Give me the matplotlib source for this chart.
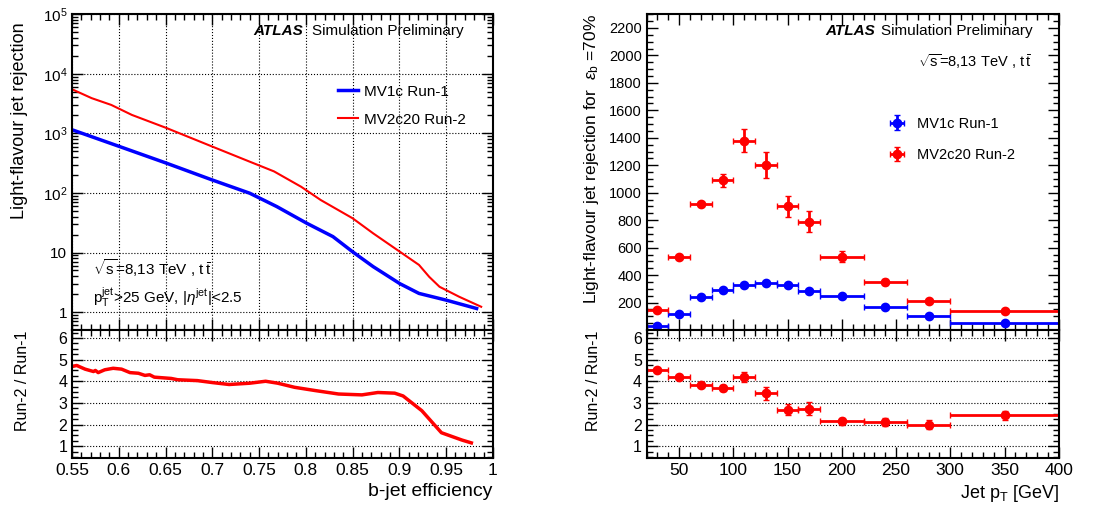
import numpy as np
import matplotlib
matplotlib.use("Agg")
import matplotlib.pyplot as plt
from matplotlib.ticker import FixedLocator, MultipleLocator, LogLocator, NullFormatter, FuncFormatter

plt.rcParams['font.family'] = ['Liberation Sans', 'DejaVu Sans']
plt.rcParams['mathtext.fontset'] = 'custom'
plt.rcParams['mathtext.rm'] = 'Liberation Sans'
plt.rcParams['mathtext.it'] = 'Liberation Sans:italic'

# --- left: rejection vs b-jet efficiency ---
eff_run1 = [0.55, 0.601, 0.651, 0.70, 0.740, 0.769, 0.801, 0.829, 0.85, 0.872, 0.9006, 0.921, 0.950, 0.9826]
rej_run1 = [1150, 600, 316, 165, 99, 59, 31, 18.5, 10.3, 5.8, 3.0, 2.06, 1.59, 1.15]

eff_run2 = [0.55, 0.571, 0.592, 0.614, 0.651, 0.70, 0.74, 0.766, 0.795, 0.816, 0.85, 0.872,
            0.9006, 0.921, 0.932, 0.943, 0.964, 0.9875]
rej_run2 = [5500, 3900, 3000, 2040, 1230, 600, 335, 230, 127, 76, 37.6, 21, 10.3, 6.2, 3.9, 2.66, 1.81, 1.23]

eff_ratio = [0.55, 0.555, 0.564, 0.573, 0.575, 0.578, 0.585, 0.594, 0.603, 0.612, 0.621, 0.628, 0.633,
             0.638, 0.656, 0.663, 0.684, 0.70, 0.718, 0.74, 0.757, 0.77, 0.788, 0.81, 0.835, 0.86,
             0.877, 0.895, 0.904, 0.924, 0.945, 0.967, 0.977]
ratio_eff = [4.68, 4.73, 4.56, 4.45, 4.5, 4.4, 4.53, 4.6, 4.56, 4.4, 4.37, 4.27, 4.3,
             4.19, 4.13, 4.07, 4.03, 3.94, 3.85, 3.91, 4.0, 3.91, 3.72, 3.57, 3.41, 3.37,
             3.48, 3.45, 3.32, 2.64, 1.62, 1.28, 1.15]

# --- right: rejection at 70% vs jet pT ---
pt_edges = [20, 40, 60, 80, 100, 120, 140, 160, 180, 220, 260, 300, 400]
rej70_run1 = [30, 120, 240, 295, 325, 345, 330, 285, 245, 165, 105, 55]
rej70_run1_err = [8, 8, 10, 10, 10, 12, 12, 10, 10, 8, 6, 5]
rej70_run2 = [145, 530, 915, 1090, 1380, 1200, 900, 790, 535, 350, 210, 140]
rej70_run2_err = [10, 15, 15, 45, 85, 95, 75, 75, 40, 25, 15, 10]
ratio_pt = [4.5, 4.18, 3.85, 3.68, 4.2, 3.45, 2.68, 2.72, 2.15, 2.12, 2.0, 2.42]
ratio_pt_err = [0.05, 0.08, 0.1, 0.15, 0.25, 0.3, 0.25, 0.3, 0.15, 0.2, 0.2, 0.2]

BLUE = '#0000ff'
RED = '#ff0000'
SQRTS = r'$\sqrt{\mathrm{s}}$=8,13 TeV , $\mathrm{t}\,\bar{\mathrm{t}}$'


def root_style(ax, ylabelsize=10.5, xlabelsize=12.5):
    ax.tick_params(which='both', direction='in', top=True, right=True)
    ax.tick_params(axis='y', labelsize=ylabelsize)
    ax.tick_params(axis='x', labelsize=xlabelsize)
    ax.tick_params(which='major', length=8, width=1)
    ax.tick_params(which='minor', length=4, width=1)
    for s in ax.spines.values():
        s.set_linewidth(1.5)


def log_label(v, pos):
    if v == 1:
        return '1'
    if v == 10:
        return '10'
    return r'$10^{%d}$' % int(round(np.log10(v)))


def atlas_label(ax, x, x2, y):
    ax.text(x, y, 'ATLAS', transform=ax.transAxes, fontsize=11, fontweight='bold', style='italic', va='center')
    ax.text(x2, y, 'Simulation Preliminary', transform=ax.transAxes, fontsize=11, va='center')


fig = plt.figure(figsize=(10.96, 5.07), dpi=100)

# left top
ax1 = fig.add_axes([0.0657, 0.349, 0.384, 0.623])
ax1.plot(eff_run1, rej_run1, color=BLUE, lw=2.5, label='MV1c Run-1')
ax1.plot(eff_run2, rej_run2, color=RED, lw=1.5, label='MV2c20 Run-2')
ax1.set_yscale('log')
ax1.set_xlim(0.55, 1.0)
ax1.set_ylim(0.5, 1e5)
ax1.yaxis.set_major_locator(LogLocator(base=10, numticks=10))
ax1.yaxis.set_major_formatter(FuncFormatter(log_label))
ax1.yaxis.set_minor_locator(LogLocator(base=10, subs=np.arange(2, 10), numticks=20))
ax1.yaxis.set_minor_formatter(NullFormatter())
ax1.xaxis.set_major_locator(MultipleLocator(0.05))
ax1.xaxis.set_minor_locator(MultipleLocator(0.01))
ax1.set_xticklabels([])
ax1.grid(True, which='major', color='black', linestyle=':', linewidth=0.8)
root_style(ax1, ylabelsize=11)
ax1.set_ylabel('Light-flavour jet rejection', fontsize=13, loc='top')
ax1.yaxis.set_label_coords(-0.105, 0.975)
ax1.legend(loc='upper left', bbox_to_anchor=(0.6, 0.82), frameon=False, fontsize=11,
           handlelength=1.3, labelspacing=0.9, handletextpad=0.4)
atlas_label(ax1, 0.43, 0.57, 0.946)
ax1.text(0.05, 0.196, SQRTS, transform=ax1.transAxes, fontsize=11, va='center')
ax1.text(0.05, 0.104, r'$\mathrm{p}_{\mathrm{T}}^{\mathrm{jet}}$>25 GeV, |$\eta^{\mathrm{jet}}$|<2.5',
         transform=ax1.transAxes, fontsize=11, va='center')

# left bottom
ax2 = fig.add_axes([0.0657, 0.0966, 0.384, 0.2525])
ax2.plot(eff_ratio, ratio_eff, color=RED, lw=2.5)
ax2.set_xlim(0.55, 1.0)
ax2.set_ylim(0.45, 6.37)
ax2.yaxis.set_major_locator(FixedLocator([1, 2, 3, 4, 5, 6]))
ax2.yaxis.set_minor_locator(MultipleLocator(0.25))
ax2.xaxis.set_major_locator(MultipleLocator(0.05))
ax2.xaxis.set_minor_locator(MultipleLocator(0.01))
ax2.xaxis.set_major_formatter(FuncFormatter(lambda v, p: ('%g' % round(v, 2))))
ax2.grid(True, axis='y', which='major', color='black', linestyle=':', linewidth=0.8)
root_style(ax2, ylabelsize=11.5)
ax2.set_ylabel('Run-2 / Run-1', fontsize=11.5)
ax2.yaxis.set_label_coords(-0.1, 0.6)
ax2.set_xlabel('b-jet efficiency', fontsize=14, loc='right')

# right top
edges = np.array(pt_edges, dtype=float)
centers = 0.5 * (edges[1:] + edges[:-1])
halfw = 0.5 * (edges[1:] - edges[:-1])

ax3 = fig.add_axes([0.590, 0.349, 0.376, 0.623])
ax3.errorbar(centers, rej70_run1, xerr=halfw, yerr=rej70_run1_err, fmt='o', color=BLUE, ms=6,
             elinewidth=2, capsize=2, label='MV1c Run-1')
ax3.errorbar(centers, rej70_run2, xerr=halfw, yerr=rej70_run2_err, fmt='o', color=RED, ms=6,
             elinewidth=2, capsize=2, label='MV2c20 Run-2')
ax3.set_xlim(20, 400)
ax3.set_ylim(0, 2300)
ax3.yaxis.set_major_locator(FixedLocator(np.arange(200, 2300, 200)))
ax3.yaxis.set_minor_locator(MultipleLocator(50))
ax3.xaxis.set_major_locator(MultipleLocator(50))
ax3.xaxis.set_minor_locator(MultipleLocator(10))
ax3.set_xticklabels([])
root_style(ax3)
ax3.set_ylabel(r'Light-flavour jet rejection for  $\varepsilon_{\mathrm{b}}$ =70%', fontsize=12.5, loc='top')
ax3.yaxis.set_label_coords(-0.11, 1.0)
ax3.legend(loc='upper left', bbox_to_anchor=(0.54, 0.717), frameon=False, fontsize=10.5,
           handlelength=2.0, labelspacing=1.2, handletextpad=0.4)
atlas_label(ax3, 0.434, 0.568, 0.946)
ax3.text(0.658, 0.851, SQRTS, transform=ax3.transAxes, fontsize=10.5, va='center')

# right bottom
ax4 = fig.add_axes([0.590, 0.0966, 0.376, 0.2525])
ax4.errorbar(centers, ratio_pt, xerr=halfw, yerr=ratio_pt_err, fmt='o', color=RED, ms=6,
             elinewidth=2, capsize=2)
ax4.set_xlim(20, 400)
ax4.set_ylim(0.45, 6.37)
ax4.yaxis.set_major_locator(FixedLocator([1, 2, 3, 4, 5, 6]))
ax4.yaxis.set_minor_locator(MultipleLocator(0.25))
ax4.xaxis.set_major_locator(MultipleLocator(50))
ax4.xaxis.set_minor_locator(MultipleLocator(10))
ax4.grid(True, axis='y', which='major', color='black', linestyle=':', linewidth=0.8)
root_style(ax4, ylabelsize=11.5)
ax4.set_ylabel('Run-2 / Run-1', fontsize=11.5)
ax4.yaxis.set_label_coords(-0.11, 0.6)
ax4.set_xlabel(r'Jet $\mathrm{p}_{\mathrm{T}}$ [GeV]', fontsize=13, loc='right')

fig.savefig('out.png', dpi=100)
